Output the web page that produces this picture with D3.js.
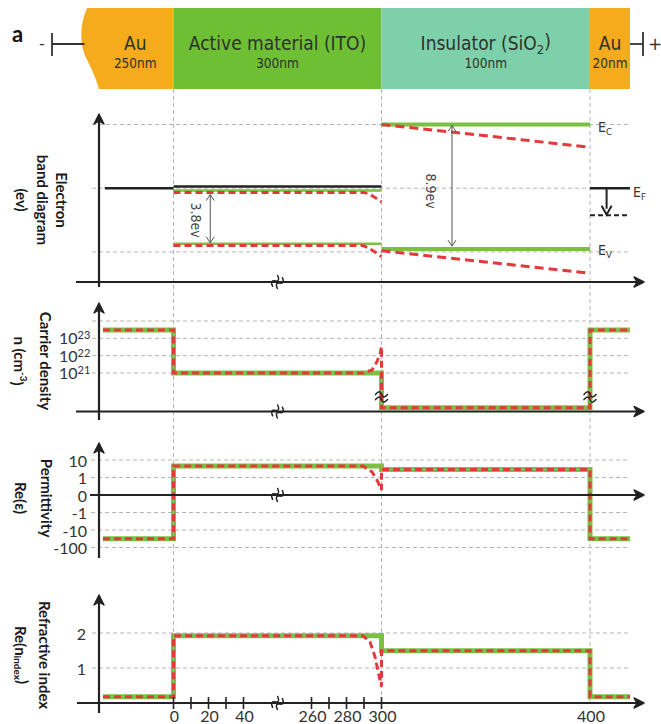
<!DOCTYPE html>
<html>
<head>
<meta charset="utf-8">
<script src="https://cdn.jsdelivr.net/npm/d3@7"></script>
<style>
  body { margin: 0; background: #fff; }
  svg { display: block; }
</style>
</head>
<body>
<svg id="fig" width="661" height="724"></svg>
<script>
// ---------------- data ----------------
// Layer stack (position in nm along the device; ITO starts at 0)
const layerLabels    = ["Au", "Active material (ITO)", "Insulator (SiO_{2})", "Au"];
const layerThickness = ["250nm", "300nm", "100nm", "20nm"];
const layerStart     = [-50, 0, 300, 400];
const layerEnd       = [0, 300, 400, 420];
const layerColors    = ["#f6ab1d", "#6ebf33", "#7ed0aa", "#f6ab1d"];

// Interfaces marked by vertical guides
const interfaces = [0, 300, 400];

// Position axis ticks (nm)
const xTickMarks  = [0, 10, 20, 30, 40, 260, 270, 280, 290, 300];
const xTickLabels = [0, 20, 40, 260, 280, 300, 400];

// Electron band diagram (eV, relative to the Fermi level)
const bandGrid   = [4.55, 0, -4.55];
const itoEc = -0.17, itoGap = 3.8;
const sio2Ec = 4.55, sio2Gap = 8.9;
const efAu       = [[-39, 0], [0, 0]];
const efIto      = [[0, 0.12], [300, 0.12]];
const efRight    = [[400, 0], [420, 0]];
const efShifted  = [[400, -1.93], [420, -1.93]];
const ecItoFlat  = [[0, itoEc], [300, itoEc]];
const evItoFlat  = [[0, itoEc - itoGap], [300, itoEc - itoGap]];
const ecItoBias  = [[0, -0.3], [289.4, -0.3], [292.3, -0.38], [295.1, -0.57], [297.6, -0.76], [300, -0.98]];
const evItoBias  = [[0, -4.1], [289.4, -4.1], [292.3, -4.25], [295.1, -4.47], [297.6, -4.66], [300, -4.89]];
const ecSio2Flat = [[300, sio2Ec], [400, sio2Ec]];
const evSio2Flat = [[300, sio2Ec - sio2Gap], [400, sio2Ec - sio2Gap]];
const ecSio2Bias = [[300, 4.55], [400, 2.93]];
const evSio2Bias = [[300, -4.47], [400, -6.07]];

// Carrier density n (cm^-3)
const nGrid      = [1e24, 1e23, 1e22, 1e21];
const nTickExp   = [23, 22, 21];
const nFlat = [[-40, 3e23], [0, 3e23], [0, 1e21], [300, 1e21], [300, 1e19], [400, 1e19], [400, 3e23], [420, 3e23]];
const nBias = [[-40, 3e23], [0, 3e23], [0, 1e21], [289.4, 1e21], [294.6, 1.5e21], [297.4, 4.5e21], [299.2, 1.3e22], [300, 3.3e22],
               [300, 1e19], [400, 1e19], [400, 3e23], [420, 3e23]];

// Permittivity Re(eps)
const epsTicks = [10, 1, 0, -1, -10, -100];
const epsFlat = [[-40, -32], [0, -32], [0, 4.5], [300, 4.5], [300, 2.9], [400, 2.9], [400, -32], [420, -32]];
const epsBias = [[-40, -32], [0, -32], [0, 4.5], [289.4, 4.5], [294.6, 2.1], [297.4, 0.86], [300, 0.29],
                 [300, 2.9], [400, 2.9], [400, -32], [420, -32]];

// Refractive index Re(n)
const nrTicks = [2, 1];
const nrFlat = [[-40, 0.18], [0, 0.18], [0, 1.92], [300, 1.92], [300, 1.49], [400, 1.49], [400, 0.18], [420, 0.18]];
const nrBias = [[-40, 0.18], [0, 0.18], [0, 1.92], [289.4, 1.92], [293.4, 1.75], [296.3, 1.32], [299.1, 0.66], [300, 0.47],
                [300, 1.49], [400, 1.49], [400, 0.18], [420, 0.18]];

// ---------------- styles ----------------
const GREEN = "#7ac143", RED = "#e13a3d", GRID = "#b5b5b5", INK = "#222";
const TXT = "#333";

// ---------------- scales ----------------
// Broken position axis: Au | ITO 0–50 … 250–300 | SiO2 300–400 | Au
const x = d3.scaleLinear()
  .domain([-50, -40, 0, 50, 250, 300, 400, 420])
  .range([85.5, 103, 173.5, 261, 294, 381.5, 590, 630]);

const yBand = d3.scaleLinear().domain([-6.7, 5.3]).range([282, 114]);
const yN    = d3.scaleLog().domain([1e21, 1e24]).range([373, 321]);
const epsT  = v => Math.abs(v) <= 1 ? v : Math.sign(v) * (1 + Math.log10(Math.abs(v)));
const yEpsL = d3.scaleLinear().domain([-3, 2]).range([547.5, 460]);
const yEps  = v => yEpsL(epsT(v));
const yNr   = d3.scaleLinear().domain([0, 2]).range([703, 633]);

const svg = d3.select("#fig");
const gGuides = svg.append("g");
const gBar = svg.append("g");
const gPlot = svg.append("g");
const gAxes = svg.append("g");
const gText = svg.append("g");

// helper: text with _{sub} / ^{sup} markup
function richText(sel, str, small) {
  const parts = str.split(/(_\{[^}]*\}|\^\{[^}]*\})/).filter(s => s.length);
  let shift = 0;
  parts.forEach(p => {
    let dy = 0, s = p, size = null;
    if (p.startsWith("_{")) { s = p.slice(2, -1); dy = 0.3; size = small; }
    else if (p.startsWith("^{")) { s = p.slice(2, -1); dy = -0.4; size = small; }
    const t = sel.append("tspan").text(s);
    const d = dy - shift;
    if (d !== 0) t.attr("dy", d + "em");
    shift = dy;
    if (size) t.attr("font-size", size);
  });
  return sel;
}

// ---------------- layer bar ----------------
const barTop = 8, barBot = 89;
layerStart.forEach((s, i) => {
  const x0 = x(s), x1 = x(layerEnd[i]);
  if (i === 0) {
    gBar.append("path")
      .attr("d", `M${x0 + 1.5},${barTop} C${x0 - 6},${barTop + 17} ${x0 - 6},${barTop + 37} ${x0 + 0.5},${barTop + 50}
                  C${x0 + 6},${barTop + 60} ${x0 + 11},${barTop + 72} ${x0 + 13.5},${barBot} L${x1},${barBot} L${x1},${barTop} Z`)
      .attr("fill", layerColors[i]);
  } else {
    gBar.append("rect").attr("x", x0).attr("y", barTop).attr("width", x1 - x0).attr("height", barBot - barTop)
      .attr("fill", layerColors[i]);
  }
  const cx = i === 0 ? (x(-40) + x1) / 2 - 3 : (x0 + x1) / 2;
  richText(gText.append("text").attr("x", cx).attr("y", 50).attr("text-anchor", "middle")
    .attr("font-family", "DejaVu Sans Condensed, DejaVu Sans").attr("font-size", 19).attr("fill", "#2a332a"),
    layerLabels[i], 13);
  gText.append("text").attr("x", cx).attr("y", 68).attr("text-anchor", "middle")
    .attr("font-family", "DejaVu Sans Condensed, DejaVu Sans").attr("font-size", 13.5).attr("fill", "#2a332a")
    .text(layerThickness[i]);
});

// electrodes / wires
const wire = gBar.append("g").attr("stroke", "#333").attr("stroke-width", 1.8).attr("fill", "none");
wire.append("line").attr("x1", 52).attr("x2", x(-50) - 1).attr("y1", 44).attr("y2", 44);
wire.append("line").attr("x1", 52).attr("x2", 52).attr("y1", 33).attr("y2", 56);
wire.append("line").attr("x1", x(420)).attr("x2", 643).attr("y1", 44).attr("y2", 44);
wire.append("line").attr("x1", 643).attr("x2", 643).attr("y1", 32).attr("y2", 56);
gText.append("text").attr("x", 42).attr("y", 49).attr("text-anchor", "middle").attr("font-family", "DejaVu Sans")
  .attr("font-size", 16).attr("fill", "#333").text("-");
gText.append("text").attr("x", 655).attr("y", 50).attr("text-anchor", "middle").attr("font-family", "DejaVu Sans")
  .attr("font-size", 17).attr("fill", "#333").text("+");
gText.append("text").attr("x", 12).attr("y", 42).attr("font-family", "Lato").attr("font-weight", 700)
  .attr("font-size", 22).attr("fill", "#111").text("a");

// ---------------- vertical guides ----------------
gGuides.selectAll("line.guide").data(interfaces).join("line")
  .attr("x1", d => x(d)).attr("x2", d => x(d)).attr("y1", barBot).attr("y2", 703)
  .attr("stroke", GRID).attr("stroke-width", 1).attr("stroke-dasharray", "4,3");

// ---------------- helpers ----------------
function hGrid(vals, yf, x1 = 92, x2 = 630) {
  gGuides.selectAll(null).data(vals).join("line")
    .attr("x1", x1).attr("x2", x2).attr("y1", d => yf(d)).attr("y2", d => yf(d))
    .attr("stroke", GRID).attr("stroke-width", 1).attr("stroke-dasharray", "4,3");
}
function curve(data, yf, color, width, dash, layer = gPlot) {
  const line = d3.line().x(d => x(d[0])).y(d => yf(d[1]));
  const p = layer.append("path").attr("d", line(data)).attr("fill", "none")
    .attr("stroke", color).attr("stroke-width", width).attr("stroke-linejoin", "miter");
  if (dash) p.attr("stroke-dasharray", dash);
  return p;
}
// wavy "≈" break mark drawn across an axis
function breakMark(layer, cx, cy, angle) {
  const g = layer.append("g").attr("transform", `translate(${cx},${cy}) rotate(${angle})`)
    .attr("fill", "none").attr("stroke", INK).attr("stroke-width", 1.5).attr("stroke-linecap", "round");
  [-2.6, 2.6].forEach(dy => {
    g.append("path").attr("d", `M-6,${dy} C-3,${dy - 3.5} -1,${dy - 3.5} 0,${dy} S3,${dy + 3.5} 6,${dy}`);
  });
}
function axes(yTop, yBottom, axisY, xStart) {
  const yAx = 99, xEnd = 644;
  gAxes.append("line").attr("x1", yAx).attr("x2", yAx).attr("y1", yBottom).attr("y2", yTop + 4)
    .attr("stroke", INK).attr("stroke-width", 2.2);
  gAxes.append("path").attr("d", `M${yAx - 5},${yTop + 10}L${yAx},${yTop}L${yAx + 5},${yTop + 10}L${yAx},${yTop + 7}Z`)
    .attr("fill", INK).attr("stroke", INK).attr("stroke-width", 1.4).attr("stroke-linejoin", "round");
  gAxes.append("line").attr("x1", xStart).attr("x2", xEnd - 4).attr("y1", axisY).attr("y2", axisY)
    .attr("stroke", INK).attr("stroke-width", 2.2);
  gAxes.append("path").attr("d", `M${xEnd - 10},${axisY - 5}L${xEnd},${axisY}L${xEnd - 10},${axisY + 5}L${xEnd - 7},${axisY}Z`)
    .attr("fill", INK).attr("stroke", INK).attr("stroke-width", 1.4).attr("stroke-linejoin", "round");
  breakMark(gAxes, (x(50) + x(250)) / 2, axisY, -65);
}
function yTitle(lines, xs, cy) {
  lines.forEach((l, i) => {
    richText(gText.append("text").attr("transform", `translate(${xs[i]},${cy}) rotate(90)`)
      .attr("text-anchor", "middle").attr("dominant-baseline", "central")
      .attr("font-family", "Lato").attr("font-weight", 700).attr("font-size", 15).attr("fill", "#1a1a1a"), l, 10);
  });
}
function doubleArrow(xv, y1, y2) {
  const g = gPlot.append("g").attr("stroke", "#555").attr("stroke-width", 1).attr("fill", "none");
  const px = x(xv);
  g.append("line").attr("x1", px).attr("x2", px).attr("y1", y1).attr("y2", y2);
  g.append("path").attr("d", `M${px - 4},${y1 + 6}L${px},${y1}L${px + 4},${y1 + 6}`);
  g.append("path").attr("d", `M${px - 4},${y2 - 6}L${px},${y2}L${px + 4},${y2 - 6}`);
}
function eLabel(px, py, sub) {
  const t = gText.append("text").attr("x", px).attr("y", py).attr("font-family", "DejaVu Sans Condensed, DejaVu Sans")
    .attr("font-size", 14).attr("fill", TXT);
  t.append("tspan").text("E");
  t.append("tspan").attr("dy", "0.3em").attr("font-size", 9.5).text(sub);
}

// ---------------- panel 1: band diagram ----------------
hGrid(bandGrid, yBand);
curve(ecItoFlat, yBand, GREEN, 2.5);
curve(evItoFlat, yBand, GREEN, 2.5);
curve(ecSio2Flat, yBand, GREEN, 4);
curve(evSio2Flat, yBand, GREEN, 4);
curve(ecItoBias, yBand, RED, 3, "7,4");
curve(evItoBias, yBand, RED, 3, "7,4");
curve(ecSio2Bias, yBand, RED, 3, "9,5");
curve(evSio2Bias, yBand, RED, 3, "9,5");
curve(efAu, yBand, INK, 2.4);
curve(efIto, yBand, INK, 2.4);
curve(efRight, yBand, INK, 2.4);
curve(efShifted, yBand, INK, 2, "5,3");
// Fermi level shift arrow
{
  const px = x(408.3), y0 = yBand(0), y1 = yBand(-1.75);
  gPlot.append("line").attr("x1", px).attr("x2", px).attr("y1", y0).attr("y2", y1 - 4)
    .attr("stroke", INK).attr("stroke-width", 2);
  gPlot.append("path").attr("d", `M${px - 5},${y1 - 7}L${px},${y1 + 2}L${px + 5},${y1 - 7}`)
    .attr("fill", "none").attr("stroke", INK).attr("stroke-width", 2);
}
doubleArrow(21, yBand(itoEc) + 4, yBand(itoEc - itoGap) - 1);
doubleArrow(333.8, yBand(sio2Ec) + 1, yBand(sio2Ec - sio2Gap) - 3);
gText.append("text").attr("transform", `translate(196,${(yBand(itoEc) + yBand(itoEc - itoGap)) / 2 + 3}) rotate(90)`)
  .attr("text-anchor", "middle").attr("dominant-baseline", "central")
  .attr("font-family", "DejaVu Sans Condensed, DejaVu Sans").attr("font-size", 14).attr("fill", "#444").text(itoGap + "ev");
gText.append("text").attr("transform", `translate(431,191) rotate(90)`)
  .attr("text-anchor", "middle").attr("dominant-baseline", "central")
  .attr("font-family", "DejaVu Sans Condensed, DejaVu Sans").attr("font-size", 14).attr("fill", "#444").text(sio2Gap + "ev");
eLabel(598, 132, "C");
eLabel(633, 197, "F");
eLabel(598, 255, "V");
axes(114, 287, 282, 76);
yTitle(["Electron", "band diagram", "(ev)"], [62, 43, 22], 200);

// ---------------- panel 2: carrier density ----------------
hGrid(nGrid, yN);
curve(nFlat, v => Math.min(yN(v), 408), GREEN, 5);
curve(nBias, v => Math.min(yN(v), 408), RED, 3, "7,4");
axes(303, 420, 411.5, 76);
nTickExp.forEach(e => {
  const t = gText.append("text").attr("x", 59).attr("y", yN(Math.pow(10, e)) + 6)
    .attr("font-family", "Lato").attr("font-size", 16).attr("fill", TXT);
  t.append("tspan").text("10");
  t.append("tspan").attr("dy", "-0.45em").attr("font-size", 11).text(e);
});
[x(300), x(400)].forEach(px => breakMark(gAxes, px, 397, 0));
yTitle(["Carrier density", "n (cm^{-3})"], [46, 20], 361);

// ---------------- panel 3: permittivity ----------------
hGrid(epsTicks.filter(v => v !== 0), yEps, 91);
curve(epsFlat, yEps, GREEN, 5);
curve(epsBias, yEps, RED, 3, "7,4");
axes(443, 558, 495, 90);
epsTicks.forEach(v => {
  gText.append("text").attr("x", 87).attr("y", yEps(v)).attr("text-anchor", "end").attr("dominant-baseline", "central")
    .attr("font-family", "Lato").attr("font-size", 16).attr("fill", TXT).text(v);
});
yTitle(["Permittivity", "Re(ε)"], [47, 21], 498);

// ---------------- panel 4: refractive index ----------------
hGrid(nrTicks, yNr);
curve(nrFlat, yNr, GREEN, 5);
curve(nrBias, yNr, RED, 3, "7,4");
axes(595, 713, 703, 77);
nrTicks.forEach(v => {
  gText.append("text").attr("x", 86).attr("y", yNr(v)).attr("text-anchor", "end").attr("dominant-baseline", "central")
    .attr("font-family", "Lato").attr("font-size", 16).attr("fill", TXT).text(v);
});
gAxes.selectAll(null).data(xTickMarks).join("line")
  .attr("x1", d => x(d)).attr("x2", d => x(d)).attr("y1", 697).attr("y2", 709)
  .attr("stroke", INK).attr("stroke-width", 1.6);
gText.selectAll(null).data(xTickLabels).join("text")
  .attr("x", d => x(d) + 1).attr("y", 722).attr("text-anchor", "middle")
  .attr("font-family", "Lato").attr("font-size", 16).attr("fill", TXT).text(d => d);
yTitle(["Refractive index", "Re(n_{index})"], [45, 21], 655);
</script>
</body>
</html>
